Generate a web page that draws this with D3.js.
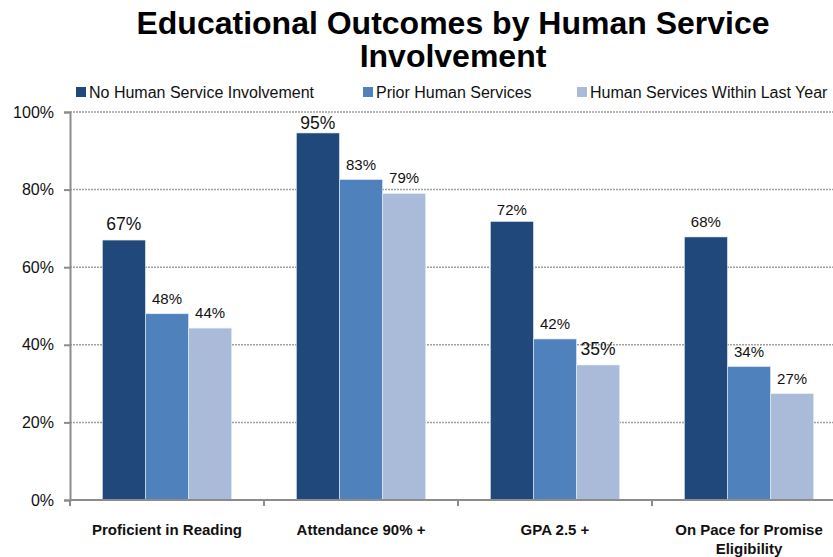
<!DOCTYPE html>
<html>
<head>
<meta charset="utf-8">
<script src="https://cdn.jsdelivr.net/npm/d3@7"></script>
<style>
  body { margin: 0; background: #fff; }
  svg { display: block; font-family: "Liberation Sans", Arial, sans-serif; }
</style>
</head>
<body>
<div id="chart"></div>
<script>
const categories = ['Proficient in Reading', 'Attendance 90% +', 'GPA 2.5 +', 'On Pace for Promise Eligibility'];
const series = ['No Human Service Involvement', 'Prior Human Services', 'Human Services Within Last Year'];
const noInvolvement = [67, 94.6, 71.8, 67.8];
const priorServices = [48, 82.6, 41.5, 34.4];
const lastYear = [44.3, 79, 34.8, 27.4];
const yTicks = [0, 20, 40, 60, 80, 100];

const width = 833;
const height = 557;
const margin = { top: 112, right: -13, bottom: 57, left: 70 };
const colors = ['#21487b', '#4f81bd', '#aabbd9'];
// labels drawn a bit larger in the original (category-series)
const bigLabels = { '0-0': true, '1-0': true, '2-2': true };
// a few labels sit closer to their bar
const labelGap = { '1-0': 4, '2-0': 6 };

const values = [noInvolvement, priorServices, lastYear];

const svg = d3.select('#chart')
  .append('svg')
  .attr('width', width)
  .attr('height', height);

const x = d3.scaleBand()
  .domain(categories)
  .range([margin.left, width - margin.right])
  .paddingInner(0)
  .paddingOuter(0);

const xInner = d3.scaleBand()
  .domain(series)
  .range([0, x.bandwidth()])
  .paddingOuter(0.75)
  .paddingInner(0);

const y = d3.scaleLinear()
  .domain([0, 100])
  .range([height - margin.bottom, margin.top]);

// Title
svg.append('text')
  .attr('x', 453)
  .attr('y', 34)
  .attr('text-anchor', 'middle')
  .attr('font-size', 32)
  .attr('font-weight', 'bold')
  .text('Educational Outcomes by Human Service');

svg.append('text')
  .attr('x', 453)
  .attr('y', 67)
  .attr('text-anchor', 'middle')
  .attr('font-size', 32)
  .attr('font-weight', 'bold')
  .text('Involvement');

// Legend
const legendX = [76, 363, 577];
const legend = svg.append('g')
  .selectAll('g')
  .data(series)
  .enter()
  .append('g')
  .attr('transform', (d, i) => `translate(${legendX[i]},87)`);

legend.append('rect')
  .attr('width', 10)
  .attr('height', 10)
  .attr('fill', (d, i) => colors[i]);

legend.append('text')
  .attr('x', 13)
  .attr('y', 11)
  .attr('font-size', 16)
  .attr('fill', '#111')
  .text(d => d);

// Gridlines
svg.append('g')
  .selectAll('line')
  .data(yTicks.filter(t => t > 0))
  .enter()
  .append('line')
  .attr('x1', margin.left)
  .attr('x2', width)
  .attr('y1', d => y(d))
  .attr('y2', d => y(d))
  .attr('stroke', '#a0a0a0')
  .attr('stroke-width', 1.5)
  .attr('stroke-dasharray', '2,1');

// Bars
const group = svg.append('g')
  .selectAll('g')
  .data(categories)
  .enter()
  .append('g')
  .attr('transform', d => `translate(${x(d)},0)`);

group.selectAll('rect')
  .data((d, ci) => series.map((s, si) => ({ s, si, ci, v: values[si][ci] })))
  .enter()
  .append('rect')
  .attr('x', d => xInner(d.s))
  .attr('width', xInner.bandwidth())
  .attr('y', d => y(d.v))
  .attr('height', d => y(0) - y(d.v))
  .attr('fill', d => colors[d.si])
  .attr('stroke', '#e8eef7')
  .attr('stroke-width', 0.6);

group.selectAll('text')
  .data((d, ci) => series.map((s, si) => ({ s, si, ci, v: values[si][ci], key: ci + '-' + si })))
  .enter()
  .append('text')
  .attr('x', d => xInner(d.s) + xInner.bandwidth() / 2)
  .attr('y', d => y(d.v) - (labelGap[d.key] !== undefined ? labelGap[d.key] : 10))
  .attr('text-anchor', 'middle')
  .attr('font-size', d => bigLabels[d.key] ? 17.5 : 15)
  .attr('fill', '#111')
  .text(d => Math.round(d.v) + '%');

// Y axis
const yAxis = d3.axisLeft(y)
  .tickValues(yTicks)
  .tickFormat(d => d + '%')
  .tickSize(6)
  .tickPadding(10);

svg.append('g')
  .attr('transform', `translate(${margin.left},0)`)
  .call(yAxis)
  .call(g => g.select('.domain').attr('stroke', '#8c8c8c').attr('stroke-width', 2))
  .call(g => g.selectAll('.tick line').attr('stroke', '#8c8c8c').attr('stroke-width', 2))
  .call(g => g.selectAll('.tick text')
    .attr('font-size', 16)
    .attr('fill', '#111')
    .attr('font-family', '"Liberation Sans", Arial, sans-serif'));

// X axis
svg.append('line')
  .attr('x1', margin.left)
  .attr('x2', width)
  .attr('y1', y(0))
  .attr('y2', y(0))
  .attr('stroke', '#8c8c8c')
  .attr('stroke-width', 2);

svg.append('g')
  .selectAll('line')
  .data(categories)
  .enter()
  .append('line')
  .attr('x1', d => x(d))
  .attr('x2', d => x(d))
  .attr('y1', y(0))
  .attr('y2', y(0) + 6)
  .attr('stroke', '#8c8c8c')
  .attr('stroke-width', 2);

const catLines = {
  'On Pace for Promise Eligibility': ['On Pace for Promise', 'Eligibility']
};

const catLabel = svg.append('g')
  .selectAll('text')
  .data(categories)
  .enter()
  .append('text')
  .attr('x', d => x(d) + x.bandwidth() / 2)
  .attr('y', 535)
  .attr('text-anchor', 'middle')
  .attr('font-size', 15)
  .attr('font-weight', 'bold')
  .attr('fill', '#111');

catLabel.selectAll('tspan')
  .data(d => catLines[d] || [d])
  .enter()
  .append('tspan')
  .attr('x', function () { return d3.select(this.parentNode).attr('x'); })
  .attr('dy', (d, i) => i === 0 ? 0 : 19)
  .text(d => d);
</script>
</body>
</html>
